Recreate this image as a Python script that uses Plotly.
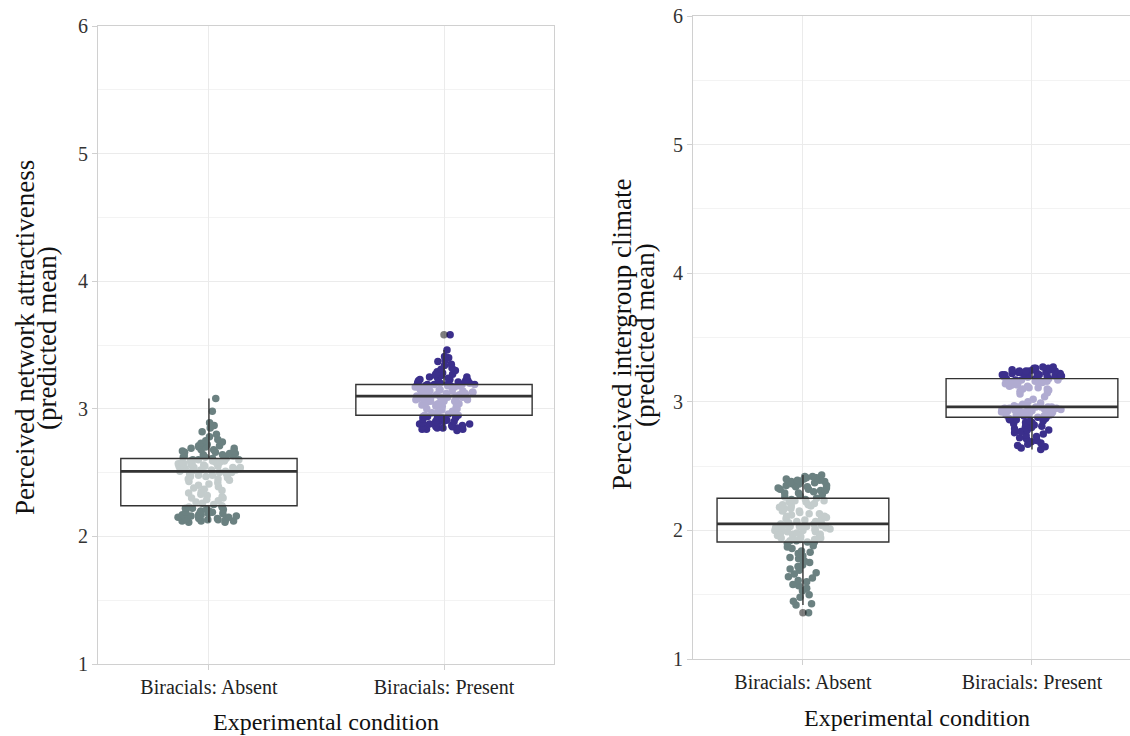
import plotly.graph_objects as go

W, H = 1130, 736
FONT = "Liberation Serif"

categories = ["Biracials: Absent", "Biracials: Present"]

# ---- Left panel: perceived network attractiveness (predicted means) ----
attr_absent = [
    2.11, 2.11, 2.12, 2.12, 2.12, 2.13, 2.13, 2.13, 2.14, 2.14, 2.14, 2.15, 2.15,
    2.15, 2.16, 2.16, 2.17, 2.17, 2.17, 2.18, 2.18, 2.19, 2.19, 2.19, 2.20, 2.20,
    2.21, 2.21, 2.22, 2.22, 2.23, 2.23,
    2.24, 2.25, 2.26, 2.27, 2.28, 2.29, 2.30, 2.30, 2.31, 2.32, 2.33, 2.34, 2.35,
    2.36, 2.37, 2.38, 2.39, 2.40, 2.41, 2.42, 2.43, 2.44, 2.45, 2.45, 2.46, 2.47,
    2.47, 2.48, 2.48, 2.49, 2.49, 2.50, 2.50,
    2.51, 2.51, 2.51, 2.52, 2.52, 2.52, 2.53, 2.53, 2.53, 2.54, 2.54, 2.54, 2.55,
    2.55, 2.55, 2.56, 2.56, 2.56, 2.57, 2.57, 2.57, 2.58, 2.58, 2.58, 2.59, 2.59,
    2.59, 2.60, 2.60, 2.60, 2.61, 2.61,
    2.62, 2.62, 2.63, 2.63, 2.64, 2.64, 2.65, 2.65, 2.66, 2.66, 2.67, 2.67, 2.68,
    2.68, 2.69, 2.69, 2.70, 2.70, 2.71, 2.71, 2.72, 2.73, 2.74, 2.75, 2.76, 2.78,
    2.80, 2.82, 2.85, 2.87, 2.89, 2.98, 3.08,
]
attr_present = [
    2.83, 2.84, 2.84, 2.84, 2.85, 2.85, 2.85, 2.86, 2.86, 2.86, 2.87, 2.87, 2.87,
    2.88, 2.88, 2.88, 2.89, 2.89, 2.90, 2.90, 2.90, 2.91, 2.91, 2.92, 2.92, 2.93,
    2.93, 2.93, 2.94, 2.94, 2.95, 2.95,
    2.95, 2.96, 2.97, 2.97, 2.98, 2.99, 3.00, 3.00, 3.01, 3.02, 3.02, 3.03, 3.03,
    3.04, 3.04, 3.05, 3.05, 3.06, 3.06, 3.06, 3.07, 3.07, 3.07, 3.08, 3.08, 3.08,
    3.09, 3.09, 3.09, 3.09, 3.10, 3.10, 3.10,
    3.10, 3.11, 3.11, 3.11, 3.12, 3.12, 3.12, 3.13, 3.13, 3.13, 3.14, 3.14, 3.14,
    3.15, 3.15, 3.15, 3.16, 3.16, 3.16, 3.17, 3.17, 3.17, 3.17, 3.18, 3.18, 3.18,
    3.18, 3.19, 3.19, 3.19, 3.19, 3.19,
    3.20, 3.20, 3.20, 3.21, 3.21, 3.21, 3.22, 3.22, 3.22, 3.23, 3.23, 3.23, 3.24,
    3.24, 3.25, 3.25, 3.26, 3.26, 3.27, 3.27, 3.28, 3.29, 3.30, 3.31, 3.32, 3.34,
    3.35, 3.37, 3.38, 3.40, 3.41, 3.46, 3.58,
]
attr_q1 = [2.24, 2.95]
attr_median = [2.51, 3.10]
attr_q3 = [2.61, 3.19]
attr_lowerfence = [2.11, 2.83]
attr_upperfence = [3.08, 3.46]
attr_outliers_present = [3.58]

# ---- Right panel: perceived intergroup climate (predicted means) ----
clim_absent = [
    1.36, 1.42, 1.43, 1.45, 1.48, 1.50, 1.53, 1.55, 1.57, 1.58, 1.60, 1.61, 1.63,
    1.64, 1.66, 1.67, 1.69, 1.70, 1.72, 1.73, 1.75, 1.76, 1.78, 1.79, 1.80, 1.82,
    1.83, 1.84, 1.86, 1.87, 1.88, 1.90,
    1.91, 1.91, 1.92, 1.92, 1.93, 1.93, 1.94, 1.94, 1.95, 1.95, 1.96, 1.96, 1.97,
    1.97, 1.98, 1.98, 1.99, 1.99, 2.00, 2.00, 2.00, 2.01, 2.01, 2.02, 2.02, 2.02,
    2.03, 2.03, 2.03, 2.04, 2.04, 2.05, 2.05,
    2.05, 2.06, 2.07, 2.07, 2.08, 2.09, 2.09, 2.10, 2.11, 2.11, 2.12, 2.13, 2.13,
    2.14, 2.15, 2.15, 2.16, 2.17, 2.17, 2.18, 2.19, 2.19, 2.20, 2.20, 2.21, 2.22,
    2.22, 2.23, 2.23, 2.24, 2.24, 2.25,
    2.26, 2.27, 2.28, 2.29, 2.29, 2.30, 2.31, 2.31, 2.32, 2.32, 2.33, 2.33, 2.34,
    2.34, 2.35, 2.35, 2.36, 2.36, 2.37, 2.37, 2.38, 2.38, 2.38, 2.39, 2.39, 2.40,
    2.40, 2.40, 2.41, 2.41, 2.42, 2.42, 2.43,
]
clim_present = [
    2.63, 2.64, 2.65, 2.66, 2.67, 2.68, 2.69, 2.70, 2.71, 2.72, 2.73, 2.74, 2.75,
    2.76, 2.77, 2.78, 2.78, 2.79, 2.80, 2.80, 2.81, 2.82, 2.82, 2.83, 2.84, 2.84,
    2.85, 2.85, 2.86, 2.86, 2.87, 2.87,
    2.88, 2.88, 2.89, 2.89, 2.89, 2.90, 2.90, 2.90, 2.91, 2.91, 2.91, 2.92, 2.92,
    2.92, 2.92, 2.93, 2.93, 2.93, 2.93, 2.94, 2.94, 2.94, 2.94, 2.95, 2.95, 2.95,
    2.95, 2.96, 2.96, 2.96, 2.96, 2.96, 2.96,
    2.97, 2.98, 2.99, 3.00, 3.02, 3.04, 3.06, 3.07, 3.08, 3.09, 3.10, 3.10, 3.11,
    3.11, 3.12, 3.12, 3.13, 3.13, 3.14, 3.14, 3.14, 3.15, 3.15, 3.15, 3.16, 3.16,
    3.16, 3.17, 3.17, 3.17, 3.18, 3.18,
    3.18, 3.19, 3.19, 3.19, 3.20, 3.20, 3.20, 3.20, 3.21, 3.21, 3.21, 3.21, 3.22,
    3.22, 3.22, 3.22, 3.23, 3.23, 3.23, 3.23, 3.24, 3.24, 3.24, 3.24, 3.25, 3.25,
    3.25, 3.25, 3.26, 3.26, 3.26, 3.27, 3.27,
]
clim_q1 = [1.91, 2.88]
clim_median = [2.05, 2.96]
clim_q3 = [2.25, 3.18]
clim_lowerfence = [1.42, 2.63]
clim_upperfence = [2.43, 3.27]
clim_outliers_absent = [1.36]

# ---- styling ----
point_colors = ["#6b8181", "#3b2f8c"]
box_fill = "rgba(255,255,255,0.6)"
box_line = "#333333"
outlier_color = "rgba(0,0,0,0.5)"
grid_major = "#ebebeb"
grid_minor = "#f3f3f3"
axis_line = "#d0d0d0"
BOX_W = 0.75


def points_trace(cat, values, color, xa, ya):
    # jittered raw points, drawn in the box layer beneath the summary box
    return go.Box(
        x=[cat] * len(values), y=values, xaxis=xa, yaxis=ya,
        boxpoints="all", jitter=0.36, pointpos=0, width=BOX_W,
        line=dict(width=0), fillcolor="rgba(0,0,0,0)",
        marker=dict(color=color, size=7.5, opacity=1),
        showlegend=False, hoverinfo="y",
    )


def outlier_trace(cat, values, xa, ya):
    return go.Box(
        x=[cat] * len(values), y=values, xaxis=xa, yaxis=ya,
        boxpoints="all", jitter=0, pointpos=0, width=BOX_W,
        line=dict(width=0), fillcolor="rgba(0,0,0,0)",
        marker=dict(color=outlier_color, size=7.5),
        showlegend=False, hoverinfo="y",
    )


def summary_box(q1, med, q3, lo, hi, xa, ya):
    return go.Box(
        x=categories, q1=q1, median=med, q3=q3, lowerfence=lo, upperfence=hi,
        xaxis=xa, yaxis=ya, width=BOX_W, whiskerwidth=0, boxpoints=False,
        fillcolor=box_fill, line=dict(color=box_line, width=1.4),
        showlegend=False,
    )


def median_bar(med, xa, ya):
    # heavier median stroke drawn over the box
    return go.Box(
        x=categories, q1=med, median=med, q3=med, lowerfence=med, upperfence=med,
        xaxis=xa, yaxis=ya, width=BOX_W, whiskerwidth=0, boxpoints=False,
        fillcolor="rgba(0,0,0,0)", line=dict(color=box_line, width=2.8),
        showlegend=False, hoverinfo="skip",
    )


traces = [
    points_trace(categories[0], attr_absent, point_colors[0], "x", "y"),
    points_trace(categories[1], attr_present, point_colors[1], "x", "y"),
    outlier_trace(categories[1], attr_outliers_present, "x", "y"),
    summary_box(attr_q1, attr_median, attr_q3, attr_lowerfence, attr_upperfence, "x", "y"),
    median_bar(attr_median, "x", "y"),
    points_trace(categories[0], clim_absent, point_colors[0], "x2", "y2"),
    points_trace(categories[1], clim_present, point_colors[1], "x2", "y2"),
    outlier_trace(categories[0], clim_outliers_absent, "x2", "y2"),
    summary_box(clim_q1, clim_median, clim_q3, clim_lowerfence, clim_upperfence, "x2", "y2"),
    median_bar(clim_median, "x2", "y2"),
]

fig = go.Figure(traces)


def px_x(p):
    return p / W


def px_y(p):
    return 1 - p / H


def xaxis_style(domain, rng, anchor):
    return dict(
        domain=domain, anchor=anchor, type="category",
        categoryorder="array", categoryarray=categories, range=rng,
        showgrid=True, gridcolor=grid_major, gridwidth=1,
        showline=True, linecolor=axis_line, linewidth=1, mirror=True,
        ticks="outside", ticklen=5, tickcolor=axis_line,
        tickfont=dict(family=FONT, size=20, color="#222222"),
        zeroline=False, automargin=False,
    )


def yaxis_style(domain, anchor, mirror):
    return dict(
        domain=domain, anchor=anchor, range=[1, 6], tick0=1, dtick=1,
        showgrid=True, gridcolor=grid_major, gridwidth=1,
        minor=dict(tick0=1, dtick=0.5, showgrid=True, gridcolor=grid_minor, ticks=""),
        showline=True, linecolor=axis_line, linewidth=1, mirror=mirror,
        ticks="outside", ticklen=5, tickcolor=axis_line,
        tickfont=dict(family=FONT, size=20, color="#333333"),
        zeroline=False, automargin=False,
    )


fig.update_layout(
    width=W, height=H,
    margin=dict(l=0, r=0, t=0, b=0),
    paper_bgcolor="white", plot_bgcolor="white",
    boxmode="overlay",
    showlegend=False,
    xaxis=xaxis_style([px_x(98), px_x(554)], [-0.472, 1.468], "y"),
    yaxis=yaxis_style([px_y(664), px_y(26)], "x", True),
    xaxis2=xaxis_style([px_x(693), 1.0], [-0.480, 1.428], "y2"),
    yaxis2=yaxis_style([px_y(659), px_y(16)], "x2", False),
)

title_font = dict(family=FONT, size=27, color="#111111")
xtitle_font = dict(family=FONT, size=24, color="#111111")

annotations = [
    dict(text="Perceived network attractiveness", x=px_x(25), y=px_y(338),
         textangle=-90, font=title_font),
    dict(text="(predicted mean)", x=px_x(47), y=px_y(338),
         textangle=-90, font=title_font),
    dict(text="Perceived intergroup climate", x=px_x(622), y=px_y(335),
         textangle=-90, font=title_font),
    dict(text="(predicted mean)", x=px_x(645), y=px_y(335),
         textangle=-90, font=title_font),
    dict(text="Experimental condition", x=px_x(326), y=px_y(722), font=xtitle_font),
    dict(text="Experimental condition", x=px_x(917), y=px_y(718), font=xtitle_font),
]
for a in annotations:
    a.update(xref="paper", yref="paper", xanchor="center", yanchor="middle",
             showarrow=False)
fig.update_layout(annotations=annotations)

fig.write_html("out.html")
